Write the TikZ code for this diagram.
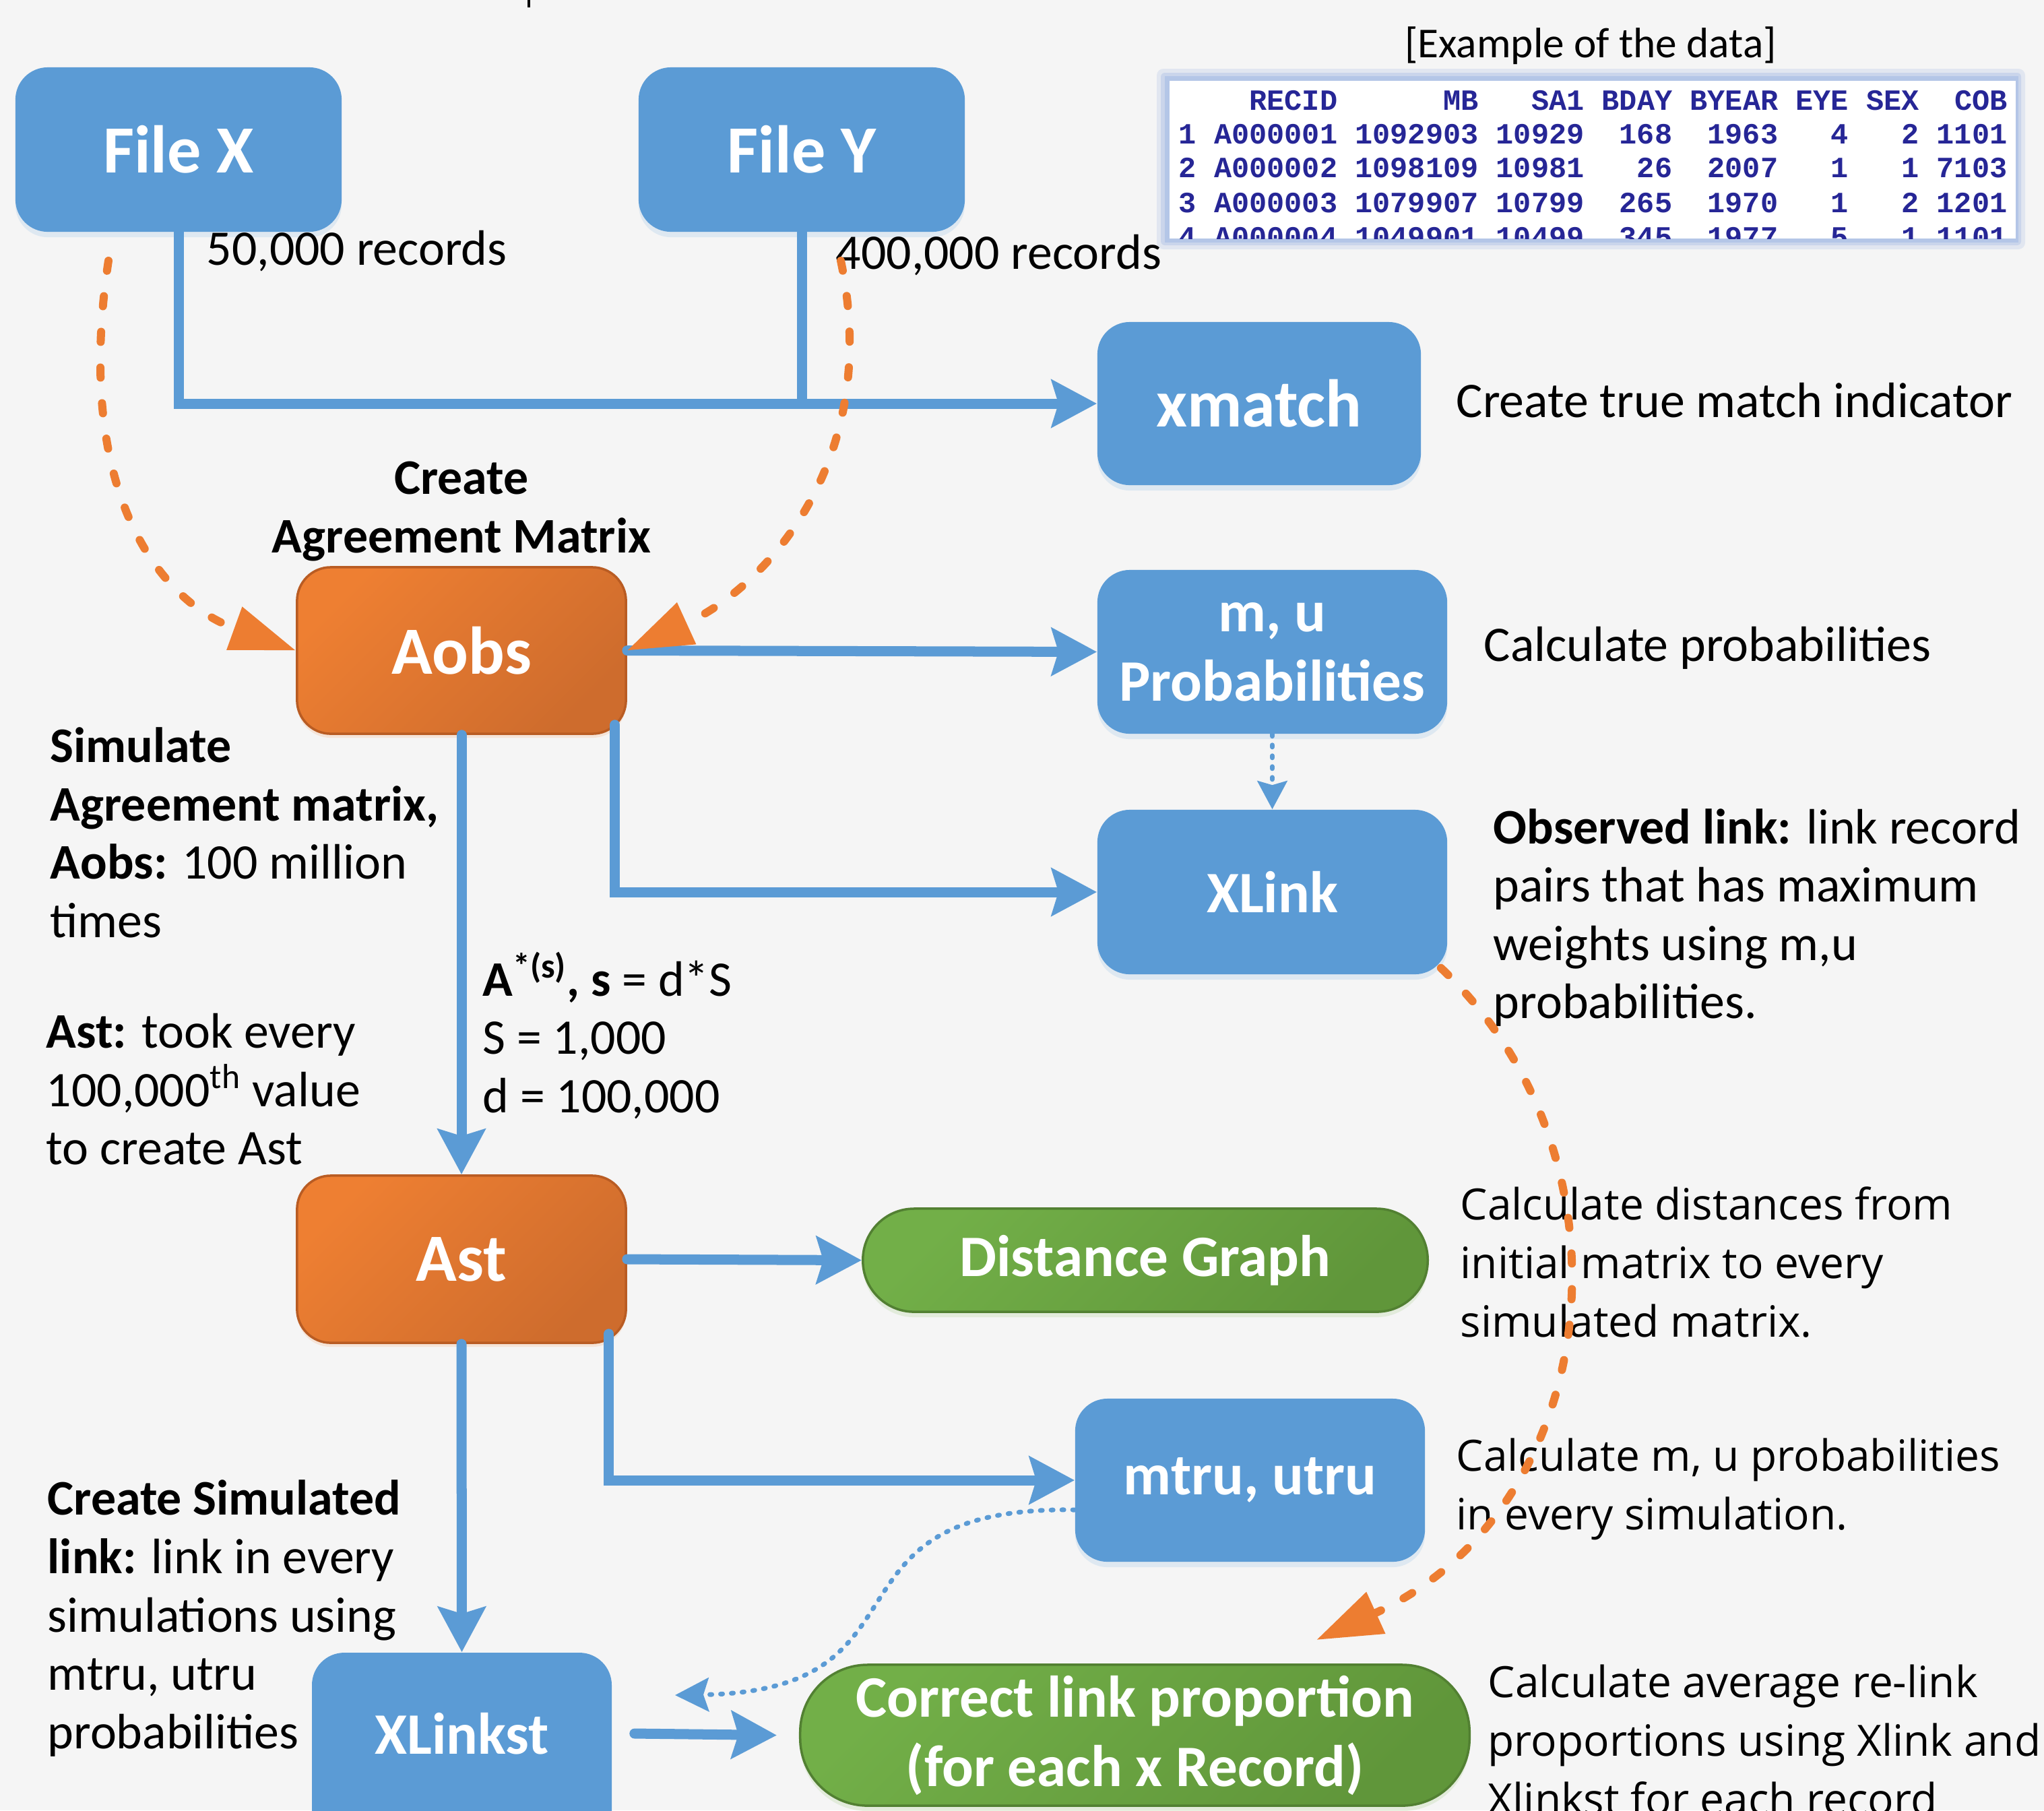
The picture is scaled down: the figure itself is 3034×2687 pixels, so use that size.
\documentclass[tikz,border=0pt]{standalone}
\usepackage{fontspec}
\setmainfont{Carlito}
\newfontfamily\osans{Open Sans}
\newfontfamily\lmono{Liberation Mono}
\usetikzlibrary{arrows.meta,shadows,calc}
\setlength{\lineskiplimit}{-20pt}

\definecolor{bg}{RGB}{245,245,245}
\definecolor{boxblue}{RGB}{91,155,213}
\definecolor{orA}{RGB}{238,127,50}
\definecolor{orB}{RGB}{206,108,45}
\definecolor{orD}{RGB}{185,92,35}
\definecolor{orL}{RGB}{237,125,49}
\definecolor{grA}{RGB}{114,175,72}
\definecolor{grB}{RGB}{96,150,58}
\definecolor{grD}{RGB}{82,128,50}
\definecolor{navy}{RGB}{38,38,150}
\definecolor{glow}{RGB}{180,198,231}

\tikzset{
  bigfont/.style={font=\fontsize{28.5pt}{34pt}\selectfont\bfseries},
  midfont/.style={font=\fontsize{24.8pt}{29.3pt}\selectfont\bfseries},
  bluebox/.style={rectangle, rounded corners=0.48cm, fill=boxblue, text=white,
    inner sep=0pt, align=center,
    drop shadow={shadow xshift=0cm, shadow yshift=-0.08cm, fill=boxblue!45, opacity=0.35}},
  bluetext/.style={rectangle, inner sep=0pt, text=white, align=center},
  orbox/.style={rectangle, rounded corners=0.5cm, draw=orD, line width=0.035cm,
    top color=orA, bottom color=orB, shading angle=45, text=white, inner sep=0pt,
    drop shadow={shadow xshift=0cm, shadow yshift=-0.06cm, fill=orA!45, opacity=0.35}},
  grbox/.style={rectangle, draw=grD, line width=0.035cm,
    top color=grA, bottom color=grB, shading angle=45, text=white, inner sep=0pt, align=center,
    drop shadow={shadow xshift=0cm, shadow yshift=-0.08cm, fill=grA!45, opacity=0.35}},
  body/.style={inner sep=0pt, align=left, anchor=west,
    font=\fontsize{21pt}{24.6pt}\selectfont},
  osbody/.style={inner sep=0pt, align=left, anchor=west,
    font=\osans\fontsize{18.2pt}{24.75pt}\selectfont},
  tabrow/.style={inner sep=0pt, anchor=base west, text=navy,
    font=\lmono\bfseries\fontsize{12.4pt}{14pt}\selectfont},
  bline/.style={draw=boxblue, line width=0.15cm, line cap=round},
  barrow/.style={bline, -{Stealth[length=0.67cm, width=0.7cm, inset=0.1cm]}},
  odash/.style={draw=orL, line width=0.12cm, line cap=round,
    dash pattern=on 0.15cm off 0.38cm, -{Triangle[length=0.97cm, width=0.65cm]}},
  bdot/.style={draw=boxblue, line width=0.07cm, line cap=round,
    dash pattern=on 0.03cm off 0.13cm},
}

\begin{document}
\begin{tikzpicture}[x=0.01cm, y=-0.01cm]
\fill[bg] (0,0) rectangle (3034,2687);
\useasboundingbox (0,0) rectangle (3034,2687);

% cut-off mark at top
\draw[line width=0.04cm] (785,0) -- (785,11);

% data example
\node[font=\fontsize{18pt}{21pt}\selectfont, inner sep=0pt] (ttl) at (2361,68) {[Example of the data]};
\fill[glow, opacity=0.3, rounded corners=0.1cm] (1717,102) rectangle (3006,370);
\fill[glow, opacity=0.5, rounded corners=0.06cm] (1723,108) rectangle (3000,364);
\fill[glow] (1729,113) rectangle (2996,360);
\fill[white] (1736,120) rectangle (2992,354);
\begin{scope}
\clip (1736,120) rectangle (2992,354);
\node[tabrow] (r0) at (1749,163) {~~~~RECID~~~~~~MB~~~SA1~BDAY~BYEAR~EYE~SEX~~COB};
\node[tabrow] (r1) at (1749,213) {1~A000001~1092903~10929~~168~~1963~~~4~~~2~1101};
\node[tabrow] (r2) at (1749,263) {2~A000002~1098109~10981~~~26~~2007~~~1~~~1~7103};
\node[tabrow] (r3) at (1749,315) {3~A000003~1079907~10799~~265~~1970~~~1~~~2~1201};
\node[tabrow] (r4) at (1749,366) {4~A000004~1049901~10499~~345~~1977~~~5~~~1~1101};
\end{scope}

% boxes
\node[bluebox, bigfont, minimum width=4.84cm, minimum height=2.44cm] (fx) at (265,222) {File X};
\node[bluebox, bigfont, minimum width=4.84cm, minimum height=2.44cm] (fy) at (1190,222) {File Y};
\node[bluebox, bigfont, minimum width=4.80cm, minimum height=2.42cm] (xm) at (1869,599) {xmatch};
\node[bluebox, midfont, minimum width=5.19cm, minimum height=2.43cm] (mu) at (1888.5,967.5) {m, u\\Probabilities};
\node[bluebox, midfont, minimum width=5.19cm, minimum height=2.44cm] (xl) at (1888.5,1324) {XLink};
\node[orbox, bigfont, minimum width=4.88cm, minimum height=2.47cm] (aobs) at (685,965.5) {Aobs};
\node[orbox, bigfont, minimum width=4.88cm, minimum height=2.48cm] (ast) at (685,1869) {Ast};
\node[grbox, midfont, rounded corners=0.76cm, minimum width=8.38cm, minimum height=1.53cm] (dg) at (1700,1870.5) {Distance Graph};
\node[bluebox, midfont, minimum width=5.19cm, minimum height=2.42cm] (mt) at (1855.5,2197) {mtru, utru};
\fill[boxblue, rounded corners=0.48cm] (463,2453) rectangle (908,2800);
\node[bluetext, midfont, minimum width=4.45cm, minimum height=2.40cm] (xlst) at (685.5,2573) {XLinkst};
\node[grbox, midfont, rounded corners=1.0cm, minimum width=9.93cm, minimum height=2.09cm] (cl) at (1684.5,2575.5) {Correct link proportion\\(for each x Record)};

% texts
\node[body] (t50) at (306,373) {50,000 records};
\node[body] (t400) at (1240,379) {400,000 records};
\node[body, anchor=center, align=center, font=\fontsize{21pt}{24.6pt}\selectfont\bfseries] (tcam) at (685,759) {Create\\Agreement Matrix};
\node[body] (txm) at (2161,594) {Create true match indicator};
\node[body] (tpr) at (2202,962) {Calculate probabilities};
\node[body] (tob) at (2216,1362) {\textbf{Observed link:} link record\\pairs that has maximum\\weights using m,u\\probabilities.};
\node[body] (tsim) at (74,1236) {\textbf{Simulate}\\\textbf{Agreement matrix,}\\\textbf{Aobs:} 100 million\\times};
\node[body] (tA) at (716,1537) {\textbf{A\textsuperscript{*(s)}, s} = d*S\\S = 1,000\\d = 100,000};
\node[body] (tast) at (68,1617) {\textbf{Ast:} took every\\100,000\textsuperscript{th} value\\to create Ast};
\node[osbody] (tdist) at (2167,1873) {Calculate distances from\\initial matrix to every\\simulated matrix.};
\node[osbody] (tmu) at (2161,2210) {Calculate m, u probabilities\\in every simulation.};
\node[body] (tcsl) at (70,2402) {\textbf{Create Simulated}\\\textbf{link:} link in every\\simulations using\\mtru, utru\\probabilities};
\node[osbody] (tavg) at (2208,2582) {Calculate average re-link\\proportions using Xlink and\\Xlinkst for each record};

% blue connectors
\draw[barrow] (fx.south) |- (xm.west);
\draw[bline] (fy.south) -- (fy.south |- xm.west);
\draw[barrow] (aobs.east) -- (mu.west);
\draw[barrow] ($(aobs.south east)+(-18,-15)$) |- (xl.west);
\draw[barrow] (aobs.south) -- (ast.north);
\draw[barrow] (ast.east) -- (dg.west);
\draw[barrow] (ast.south) -- (xlst.north);
\draw[barrow] ($(ast.south east)+(-27,-15)$) |- (mt.west);
\draw[barrow] ($(xlst.east)+(33,0)$) -- ($(cl.west)+(-33,0)$);
\draw[bdot, -{Stealth[length=0.42cm, width=0.44cm, inset=0.06cm]}] (mu.south) -- (xl.north);
\coordinate (btip) at (1002,2516);
\draw[bdot, -{Stealth[length=0.5cm, width=0.5cm, inset=0.08cm]}] ($(mt.west)+(0,44)$) .. controls (1200,2235) and (1400,2510) .. (btip);

% orange dashed connectors
\coordinate (ls) at (161,387);
\coordinate (rs) at (1248,387);
\coordinate (otip) at (1954,2434);
\draw[odash] (ls) .. controls (110,720) and (230,890) .. (aobs.west);
\draw[odash] (rs) .. controls (1310,680) and (1140,870) .. (aobs.east);
\draw[odash] ($(xl.south east)+(-10,-10)$) .. controls (2440,1720) and (2380,2240) .. (otip);
\end{tikzpicture}
\end{document}
